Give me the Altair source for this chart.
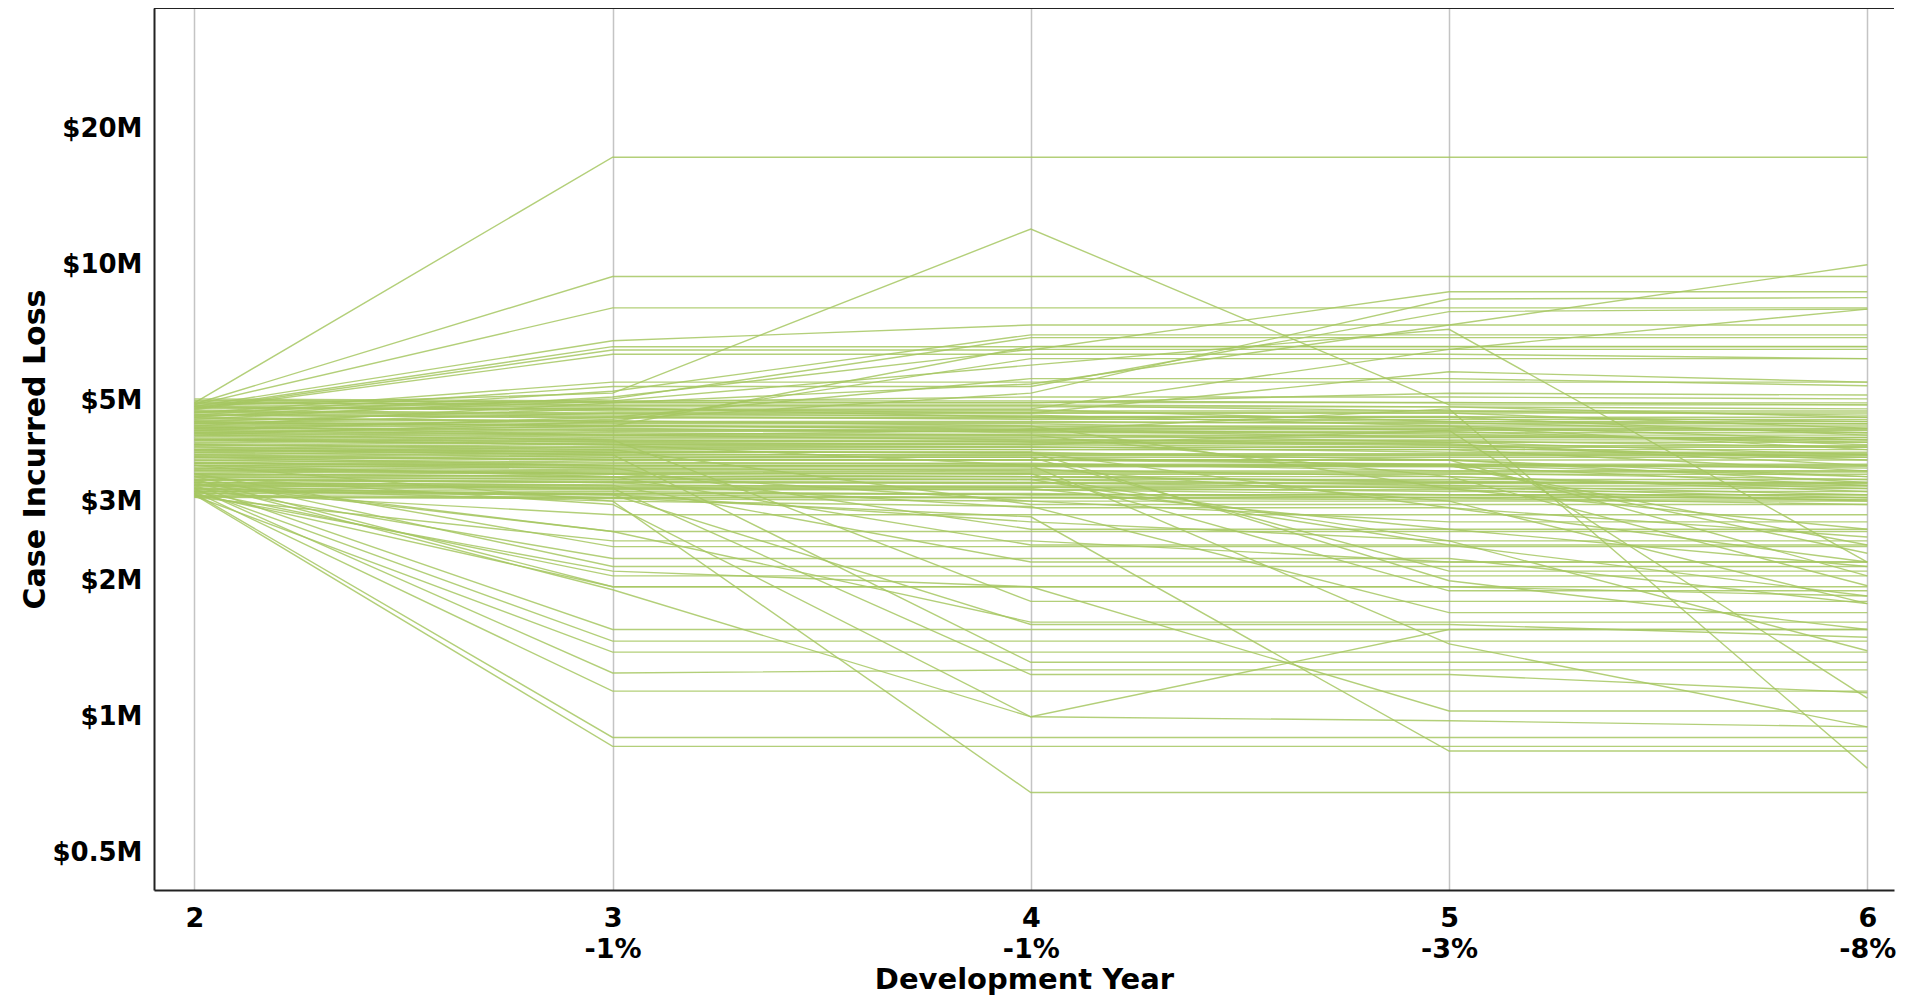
import altair as alt
import pandas as pd

years = [2, 3, 4, 5, 6]
pct_labels = ["", "-1%", "-1%", "-3%", "-8%"]
y_ticks = [0.5, 1, 2, 3, 5, 10, 20]

# Case incurred loss ($M) per claim at development years 2..6
claims_rising = [
    (4.95, 17.3, 17.3, 17.3, 17.3),
    (4.92, 9.42, 9.42, 9.42, 9.42),
    (4.90, 8.03, 8.03, 8.03, 8.03),
    (4.86, 6.79, 7.36, 7.36, 7.36),
    (4.82, 6.59, 6.59, 6.59, 6.59),
    (4.80, 6.48, 6.48, 8.72, 8.72),
    (4.78, 6.34, 6.34, 6.34, 6.20),
    (4.88, 5.20, 12.0, 4.90, 4.90),
    (4.70, 5.50, 5.50, 5.50, 5.50),
    (4.65, 5.38, 5.38, 7.88, 7.98),
    (4.60, 5.25, 7.00, 7.00, 7.00),
    (4.55, 5.10, 6.50, 6.50, 6.50),
    (4.72, 5.05, 6.90, 6.90, 6.90),
    (4.40, 4.95, 5.45, 7.36, 10.0),
    (4.50, 4.80, 4.80, 6.50, 7.98),
    (4.30, 4.60, 5.60, 5.60, 5.40),
    (4.45, 4.70, 4.70, 5.80, 5.50),
    (4.20, 4.50, 6.20, 6.20, 6.20),
    (4.62, 5.00, 6.00, 7.20, 2.20),
    (4.35, 4.55, 5.20, 8.40, 8.46),
    (4.25, 4.40, 6.60, 6.60, 6.60),
]

claims_bundle = [
    (5.05, 5.00, 5.00, 4.95, 4.95),
    (5.02, 4.96, 4.96, 4.96, 4.90),
    (5.00, 4.98, 5.10, 5.10, 5.05),
    (4.97, 4.90, 4.90, 4.85, 4.80),
    (4.95, 4.88, 4.88, 4.75, 4.75),
    (4.93, 4.95, 4.95, 5.20, 5.15),
    (4.90, 4.85, 4.85, 4.85, 4.60),
    (4.86, 4.80, 4.70, 4.70, 4.70),
    (4.85, 4.75, 4.75, 4.75, 4.65),
    (4.83, 4.78, 4.78, 4.50, 4.45),
    (4.80, 4.82, 4.60, 4.60, 4.60),
    (4.76, 4.70, 4.70, 4.70, 4.35),
    (4.74, 4.68, 4.62, 4.62, 4.50),
    (4.72, 4.65, 4.65, 4.40, 4.40),
    (4.68, 4.62, 4.55, 4.55, 4.55),
    (4.66, 4.58, 4.58, 4.50, 4.50),
    (4.64, 4.60, 4.60, 4.60, 4.20),
    (4.60, 4.50, 4.50, 4.45, 4.45),
    (4.58, 4.48, 4.48, 4.48, 4.25),
    (4.56, 4.52, 4.40, 4.40, 4.10),
    (4.52, 4.45, 4.45, 4.30, 4.30),
    (4.48, 4.40, 4.35, 4.35, 4.35),
    (4.47, 4.42, 4.32, 4.32, 4.32),
    (4.45, 4.38, 4.38, 4.38, 3.90),
    (4.42, 4.35, 4.25, 4.25, 4.25),
    (4.38, 4.30, 4.30, 4.15, 4.15),
    (4.36, 4.32, 4.32, 4.22, 4.05),
    (4.35, 4.28, 4.28, 4.28, 4.00),
    (4.32, 4.25, 4.20, 4.20, 4.20),
    (4.29, 4.22, 4.22, 4.05, 3.80),
    (4.26, 4.20, 4.10, 4.10, 4.10),
    (4.24, 4.18, 4.18, 4.18, 4.10),
    (4.23, 4.15, 4.15, 4.15, 4.15),
    (4.20, 4.12, 4.12, 4.00, 3.70),
    (4.17, 4.10, 4.05, 4.05, 4.05),
    (4.14, 4.08, 4.08, 4.08, 3.95),
    (4.12, 4.06, 4.06, 3.98, 3.98),
    (4.11, 4.05, 4.00, 3.95, 3.95),
    (4.08, 4.02, 4.02, 4.02, 3.60),
    (4.05, 4.00, 3.95, 3.95, 3.95),
    (4.02, 3.96, 3.96, 3.85, 3.85),
    (4.00, 3.94, 3.94, 3.94, 3.75),
    (3.99, 3.93, 3.90, 3.90, 3.50),
    (3.96, 3.90, 3.90, 3.90, 3.90),
    (3.93, 3.88, 3.82, 3.82, 3.82),
    (3.90, 3.85, 3.85, 3.70, 3.40),
    (3.88, 3.82, 3.78, 3.78, 3.78),
    (3.87, 3.80, 3.80, 3.80, 3.80),
    (3.84, 3.78, 3.75, 3.75, 3.75),
    (3.81, 3.75, 3.75, 3.60, 3.60),
    (3.78, 3.72, 3.70, 3.70, 3.30),
    (3.76, 3.70, 3.70, 3.62, 3.55),
    (3.75, 3.70, 3.70, 3.70, 3.70),
    (3.72, 3.66, 3.62, 3.62, 3.62),
    (3.69, 3.64, 3.64, 3.50, 3.50),
    (3.66, 3.60, 3.58, 3.58, 3.25),
    (3.64, 3.60, 3.60, 3.60, 3.40),
    (3.63, 3.58, 3.58, 3.58, 3.58),
    (3.60, 3.55, 3.50, 3.50, 3.50),
    (3.57, 3.52, 3.52, 3.40, 3.20),
    (3.54, 3.50, 3.48, 3.48, 3.48),
    (3.52, 3.48, 3.44, 3.44, 3.44),
    (3.51, 3.46, 3.46, 3.46, 3.35),
    (3.48, 3.44, 3.40, 3.30, 3.30),
    (3.45, 3.40, 3.40, 3.40, 3.15),
    (3.44, 3.40, 3.40, 3.32, 3.25),
    (3.42, 3.38, 3.35, 3.35, 3.35),
    (3.39, 3.35, 3.35, 3.25, 3.10),
    (3.36, 3.32, 3.30, 3.30, 3.30),
    (3.34, 3.30, 3.28, 3.28, 3.28),
    (3.33, 3.30, 3.30, 3.20, 3.20),
    (3.30, 3.26, 3.22, 3.22, 3.05),
    (3.27, 3.24, 3.24, 3.24, 3.24),
    (3.26, 3.22, 3.22, 3.15, 3.15),
    (3.24, 3.20, 3.18, 3.10, 3.10),
    (3.21, 3.18, 3.18, 3.18, 3.00),
    (3.18, 3.15, 3.10, 3.10, 3.10),
    (3.16, 3.12, 3.10, 3.10, 3.02),
    (3.15, 3.12, 3.12, 3.05, 3.05),
    (3.12, 3.10, 3.05, 3.05, 2.95),
    (3.09, 3.06, 3.06, 3.06, 3.06),
    (3.07, 3.05, 3.05, 3.02, 3.02),
    (3.06, 3.04, 3.00, 3.00, 3.00),
]

claims_dropping = [
    (4.50, 4.40, 4.40, 3.20, 2.60),
    (4.10, 4.00, 3.60, 3.60, 2.40),
    (3.95, 3.85, 3.85, 2.90, 2.50),
    (3.70, 3.60, 3.60, 3.60, 2.30),
    (3.55, 3.45, 3.00, 2.70, 2.70),
    (3.40, 3.35, 3.35, 2.40, 2.40),
    (3.35, 3.30, 2.90, 2.90, 2.20),
    (3.25, 3.20, 3.20, 2.60, 2.15),
    (3.80, 3.70, 3.70, 3.70, 2.05),
    (4.30, 4.20, 4.20, 3.40, 1.95),
    (3.60, 3.55, 2.60, 2.60, 2.60),
    (3.45, 3.40, 2.40, 2.40, 1.85),
    (3.15, 3.10, 2.70, 2.45, 2.45),
    (4.00, 3.90, 2.95, 2.95, 2.95),
    (3.30, 3.25, 2.20, 2.20, 2.20),
    (3.85, 3.75, 3.75, 2.10, 2.10),
    (3.65, 3.55, 3.55, 3.00, 1.78),
    (3.50, 3.45, 3.45, 1.90, 1.90),
    (4.20, 4.10, 1.80, 1.80, 1.80),
    (3.90, 3.80, 1.32, 1.32, 1.32),
    (3.20, 3.00, 2.92, 1.70, 1.70),
    (3.25, 3.05, 2.77, 0.84, 0.84),
    (3.10, 2.10, 1.94, 1.03, 1.03),
    (3.75, 3.60, 3.60, 1.45, 0.95),
    (3.30, 3.20, 1.24, 1.24, 1.13),
    (4.40, 4.20, 4.30, 4.80, 0.77),
    (4.10, 4.00, 4.00, 4.30, 1.10),
    (3.60, 3.40, 3.40, 2.45, 1.40),
    (3.20, 3.10, 1.60, 1.60, 1.50),
    (3.90, 3.85, 3.85, 2.00, 1.56),
]

claims_falling = [
    (3.10, 0.86, 0.86, 0.86, 0.86),
    (3.12, 0.90, 0.90, 0.90, 0.90),
    (3.15, 1.14, 1.14, 1.14, 1.14),
    (3.20, 1.25, 1.27, 1.27, 1.27),
    (3.08, 1.39, 1.39, 1.39, 1.39),
    (3.18, 1.47, 1.47, 1.47, 1.47),
    (3.25, 1.56, 1.56, 1.56, 1.56),
    (3.30, 1.91, 1.00, 1.56, 1.56),
    (3.35, 1.94, 1.94, 1.94, 1.94),
    (3.40, 2.15, 2.15, 2.15, 2.15),
    (3.22, 2.24, 2.24, 2.24, 1.78),
    (3.45, 2.38, 2.38, 2.38, 2.38),
    (3.28, 2.57, 2.57, 2.57, 2.57),
    (3.32, 2.57, 1.62, 1.62, 1.62),
    (3.60, 3.00, 0.68, 0.68, 0.68),
    (3.40, 2.95, 1.00, 0.98, 0.95),
    (3.14, 2.80, 2.80, 2.80, 2.80),
    (3.06, 2.45, 2.45, 2.20, 2.20),
    (3.12, 1.94, 1.94, 1.94, 1.85),
    (3.16, 2.05, 2.05, 2.05, 2.05),
]

all_claims = claims_rising + claims_bundle + claims_dropping + claims_falling
rows = []
for i, claim in enumerate(all_claims):
    for yr, v in zip(years, claim):
        rows.append({"claim": i, "year": yr, "loss": v})
df = pd.DataFrame(rows)

# x-axis label expression: year on first line, percent change on second
expr = ""
for yr, p in zip(years, pct_labels):
    lab = f"['{yr}', '{p}']" if p else f"'{yr}'"
    expr += f"datum.value == {yr} ? {lab} : "
expr += "''"

FONT = "DejaVu Sans"
W, H = 1740, 882

lines = alt.Chart(df).mark_line(
    color="#a6c762", strokeWidth=1.4, opacity=0.85
).encode(
    x=alt.X(
        "year:Q",
        scale=alt.Scale(domain=[1.9034, 6.0638], nice=False, zero=False),
        axis=alt.Axis(
            values=years, labelExpr=expr, title="Development Year",
            grid=True, gridColor="#c4c4c4", gridWidth=1.5,
            ticks=False, labelPadding=15, labelLineHeight=31,
            labelFont=FONT, labelFontSize=27, labelFontWeight="bold",
            labelColor="black", labelFlush=False, labelOverlap=False,
            labelBound=False,
            titleFont=FONT, titleFontSize=29, titleFontWeight="bold",
            titleColor="black", titleY=89, titleBaseline="middle",
            domainColor="#222222", domainWidth=2,
        ),
    ),
    y=alt.Y(
        "loss:Q",
        scale=alt.Scale(type="log", domain=[0.4138, 37.0], nice=False),
        axis=alt.Axis(
            values=y_ticks, labelExpr="'$' + datum.value + 'M'",
            grid=False, ticks=False, labelPadding=12,
            labelFont=FONT, labelFontSize=26, labelFontWeight="bold",
            labelColor="black", labelOverlap=False,
            title="Case Incurred Loss", titleFont=FONT, titleFontSize=30,
            titleFontWeight="bold", titleColor="black",
            titleX=-119, titleBaseline="middle",
            domainColor="#222222", domainWidth=2,
        ),
    ),
    detail="claim:N",
)

top_rule = alt.Chart(pd.DataFrame({"k": [0]})).mark_rule(
    color="#222222", strokeWidth=2
).encode(x=alt.value(0), x2=alt.value(W), y=alt.value(0))

chart = alt.layer(lines, top_rule).properties(
    width=W, height=H,
    padding={"left": 146, "top": 0, "right": 3, "bottom": 105},
    autosize=alt.AutoSizeParams(type="none"),
).configure_view(stroke=None)

chart.save("out.html", embed_options={"renderer": "svg", "actions": False})
